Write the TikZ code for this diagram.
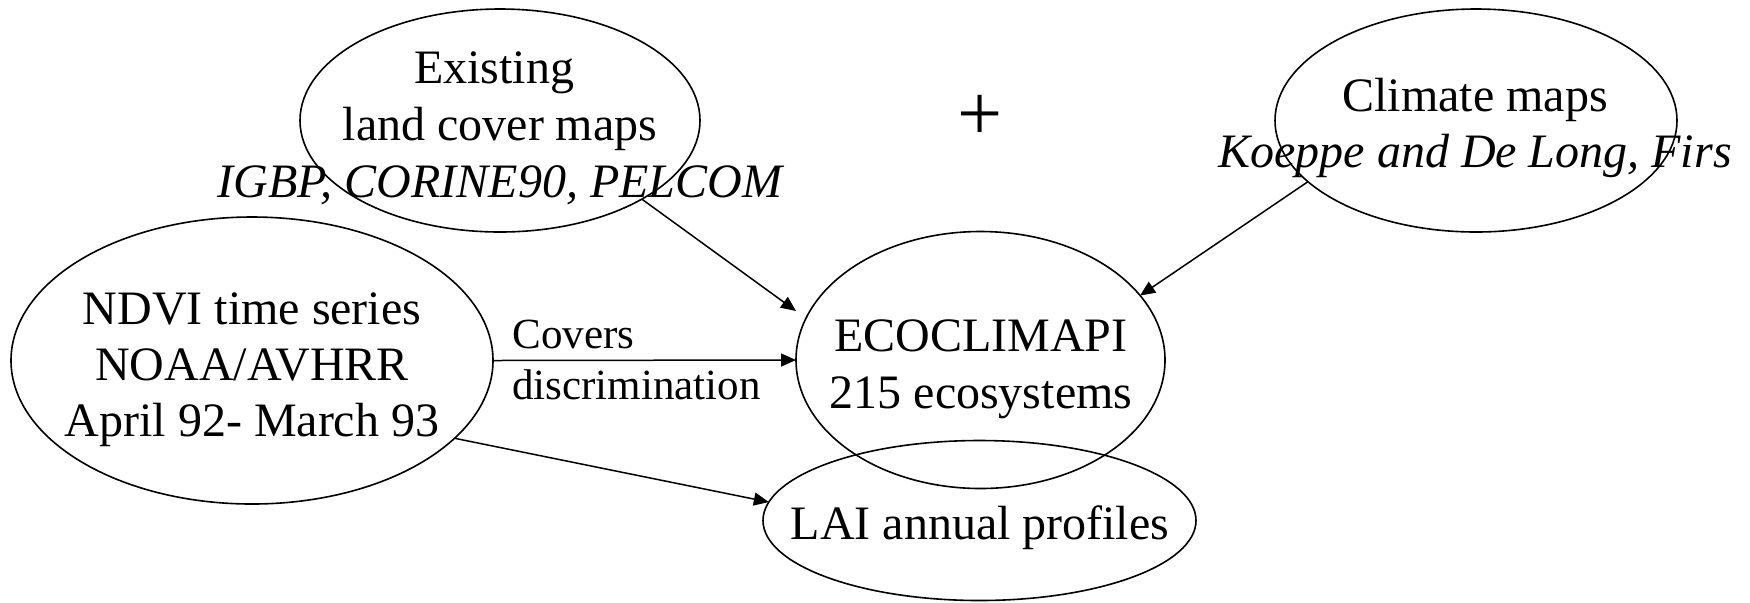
\documentclass[tikz,border=0pt]{standalone}
\usepackage{fontspec}
\setmainfont{Liberation Serif}
\usetikzlibrary{shapes.geometric,arrows.meta}
\begin{document}
\begin{tikzpicture}[x=0.5pt,y=-0.5pt,
  ell/.style={draw,ellipse,line width=0.8pt,inner sep=0pt,outer sep=0pt},
  txt/.style={anchor=base,inner sep=0pt,font=\fontsize{24}{28}\selectfont},
  lbl/.style={anchor=base west,inner sep=0pt,font=\fontsize{21.5}{25}\selectfont},
  arr/.style={line width=0.75pt,-{Triangle[length=7.5pt,width=6.5pt]}}]
\useasboundingbox (0,0) rectangle (1750,602);
% ellipses
\node[ell,minimum width=200pt,minimum height=111.5pt] (exist) at (500,120.5) {};
\node[ell,minimum width=201pt,minimum height=111.5pt] (clim) at (1476,120.5) {};
\node[ell,minimum width=241pt,minimum height=143.5pt] (ndvi) at (252,360.5) {};
\node[ell,minimum width=184.5pt,minimum height=128.5pt] (eco) at (980.5,360) {};
\node[ell,minimum width=216.5pt,minimum height=80pt] (lai) at (979.5,520.5) {};
% texts
\node[txt] (e1) at (494,83) {Existing};
\node[txt] (e2) at (500,140) {land cover maps};
\node[txt] (e3) at (500,197) {\itshape IGBP, CORINE90, PELCOM};
\node[txt] (c1) at (1475,111) {Climate maps};
\node[txt] (c2) at (1475,167) {\itshape Koeppe and De Long, Firs};
\node[txt] (n1) at (252,324) {NDVI time series};
\node[txt] (n2) at (252,380) {NOAA/AVHRR};
\node[txt] (n3) at (252,436) {April 92- March 93};
\node[txt] (o1) at (981,351) {ECOCLIMAPI};
\node[txt] (o2) at (981,408) {215 ecosystems};
\node[txt] (l1) at (980,539) {LAI annual profiles};
\node[lbl] (cv1) at (512,348) {Covers};
\node[lbl] (cv2) at (512,399) {discrimination};
\node[inner sep=0pt,font=\fontsize{40}{44}\selectfont] (plus) at (980,118) {+};
% arrows
\draw[arr] (exist.-29.8) -- ([yshift=24.5pt]eco.west);
\draw[arr] (clim.200.9) -- (eco.22.6);
\draw[arr] (ndvi.east) -- (eco.west);
\draw[arr] (ndvi.-21.2) -- (lai.175.6);
\end{tikzpicture}
\end{document}
